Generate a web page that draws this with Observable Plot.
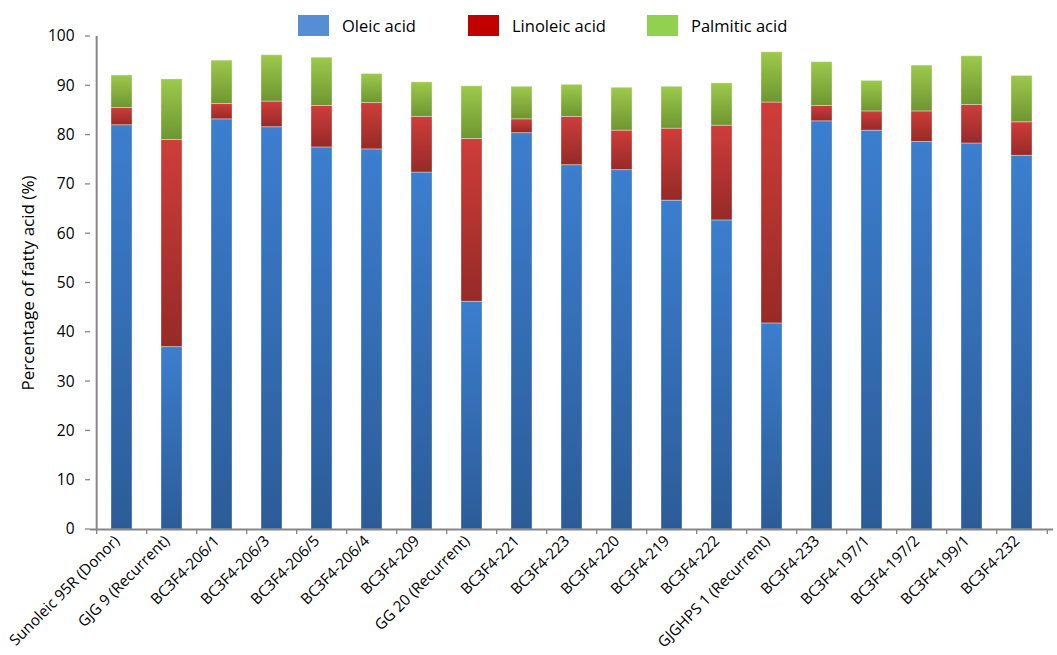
<!DOCTYPE html>
<html>
<head>
<meta charset="utf-8">
<script src="https://cdn.jsdelivr.net/npm/d3@7"></script>
<script src="https://cdn.jsdelivr.net/npm/@observablehq/plot@0.6"></script>
<style>
  body { margin: 0; background: #fff; font-family: "Open Sans", "Noto Sans", sans-serif; }
  #wrap { position: relative; width: 1057px; height: 655px; }
  #legend { position: absolute; top: 14px; left: 0; width: 1057px; height: 24px; font-size: 16.5px; color: #000; }
  .item { position: absolute; top: 0; display: flex; align-items: center; }
  .sw { width: 31px; height: 21px; margin-right: 13px; }
</style>
</head>
<body>
<div id="wrap">
  <div id="legend"></div>
  <div id="chart"></div>
</div>
<script>
const categories = [
  "Sunoleic 95R (Donor)", "GJG 9 (Recurrent)", "BC3F4-206/1", "BC3F4-206/3", "BC3F4-206/5",
  "BC3F4-206/4", "BC3F4-209", "GG 20 (Recurrent)", "BC3F4-221", "BC3F4-223", "BC3F4-220",
  "BC3F4-219", "BC3F4-222", "GJGHPS 1 (Recurrent)", "BC3F4-233", "BC3F4-197/1",
  "BC3F4-197/2", "BC3F4-199/1", "BC3F4-232"
];
const acids = ["Oleic acid", "Linoleic acid", "Palmitic acid"];
const oleic    = [82.0, 37.0, 83.2, 81.6, 77.5, 77.1, 72.4, 46.2, 80.4, 73.9, 72.9, 66.7, 62.7, 41.8, 82.8, 80.9, 78.6, 78.3, 75.8];
const linoleic = [3.5, 42.0, 3.1, 5.2, 8.4, 9.4, 11.3, 33.0, 2.8, 9.8, 8.0, 14.6, 19.2, 44.8, 3.1, 3.9, 6.2, 7.8, 6.8];
const palmitic = [6.6, 12.3, 8.8, 9.4, 9.8, 5.9, 7.0, 10.7, 6.6, 6.5, 8.7, 8.5, 8.6, 10.2, 8.9, 6.2, 9.3, 9.9, 9.4];
const yTicks = [0, 10, 20, 30, 40, 50, 60, 70, 80, 90, 100];

const legendColors = ["#558ed5", "#c00000", "#92d050"];
const legendX = [298, 468, 647];
const gradients = [
  ["gBlue", "#3c7ecf", "#2c5c98"],
  ["gRed", "#cf3d3a", "#962a27"],
  ["gGreen", "#9dc94c", "#6e9631"]
];

const series = [oleic, linoleic, palmitic];
const rows = [];
acids.forEach((a, k) => categories.forEach((c, i) => rows.push({cat: c, acid: a, value: series[k][i]})));

const W = 1057, H = 655;
const mL = 90, mR = 4, mT = 36, mB = 126;
const step = (W - mL - mR) / categories.length;

const plot = Plot.plot({
  width: W, height: H,
  marginLeft: mL, marginRight: mR, marginTop: mT, marginBottom: mB,
  style: {fontFamily: "'Open Sans', 'Noto Sans', sans-serif", fontSize: "15.5px", color: "#000", background: "#fff"},
  x: {domain: categories, paddingInner: 0.585, paddingOuter: 0.2925, label: null},
  y: {domain: [0, 100], ticks: yTicks, label: null},
  color: {type: "ordinal", domain: acids, range: gradients.map(g => `url(#${g[0]})`)},
  marks: [
    Plot.axisX({tickSize: 0, tickRotate: -45, tickPadding: 9, fontSize: 15.2, dx: -5}),
    Plot.axisY({ticks: yTicks, tickSize: 0, tickPadding: 16, fontSize: 15.5}),
    Plot.barY(rows, Plot.stackY({x: "cat", y: "value", fill: "acid", z: "acid", stroke: "#ffffff", strokeOpacity: 0.35, strokeWidth: 1})),
    Plot.ruleY([0], {stroke: "#868686", strokeWidth: 2}),
    Plot.ruleX([0], {x: () => categories[0], dx: -step / 2, y1: 0, y2: 100, stroke: "#868686", strokeWidth: 2}),
    Plot.ruleX(categories, {x: d => d, dx: -step / 2, y1: 0, y2: -1.0, stroke: "#868686", strokeWidth: 1.3}),
    Plot.ruleX([categories[categories.length - 1]], {x: d => d, dx: step / 2, y1: 0, y2: -1.0, stroke: "#868686", strokeWidth: 1.3}),
    Plot.tickY(yTicks, {y: d => d, x: () => categories[0], stroke: "#868686", strokeWidth: 1.3}),
    Plot.text(["Percentage of fatty acid (%)"], {frameAnchor: "left", textAnchor: "middle", dx: -62, rotate: -90, fontSize: 17, fill: "#000"})
  ]
});

// y tick marks: make the tickY lines short ticks left of the axis
plot.querySelectorAll("g[aria-label='tick']").forEach(g => {
  g.removeAttribute("transform");
  g.querySelectorAll("line").forEach(l => {
    l.setAttribute("x1", mL - 5);
    l.setAttribute("x2", mL);
    l.removeAttribute("transform");
  });
});

const ns = "http://www.w3.org/2000/svg";
const defs = document.createElementNS(ns, "defs");
gradients.forEach(([id, top, bot]) => {
  const lg = document.createElementNS(ns, "linearGradient");
  lg.setAttribute("id", id);
  lg.setAttribute("x1", "0"); lg.setAttribute("y1", "0");
  lg.setAttribute("x2", "0"); lg.setAttribute("y2", "1");
  const s1 = document.createElementNS(ns, "stop");
  s1.setAttribute("offset", "0"); s1.setAttribute("stop-color", top);
  const s2 = document.createElementNS(ns, "stop");
  s2.setAttribute("offset", "1"); s2.setAttribute("stop-color", bot);
  lg.appendChild(s1); lg.appendChild(s2);
  defs.appendChild(lg);
});
plot.insertBefore(defs, plot.firstChild);
document.getElementById("chart").appendChild(plot);

const legend = document.getElementById("legend");
acids.forEach((a, i) => {
  const it = document.createElement("div");
  it.className = "item";
  it.style.left = legendX[i] + "px";
  const sw = document.createElement("div");
  sw.className = "sw";
  sw.style.background = legendColors[i];
  const t = document.createElement("span");
  t.textContent = a;
  it.appendChild(sw); it.appendChild(t);
  legend.appendChild(it);
});
</script>
</body>
</html>
